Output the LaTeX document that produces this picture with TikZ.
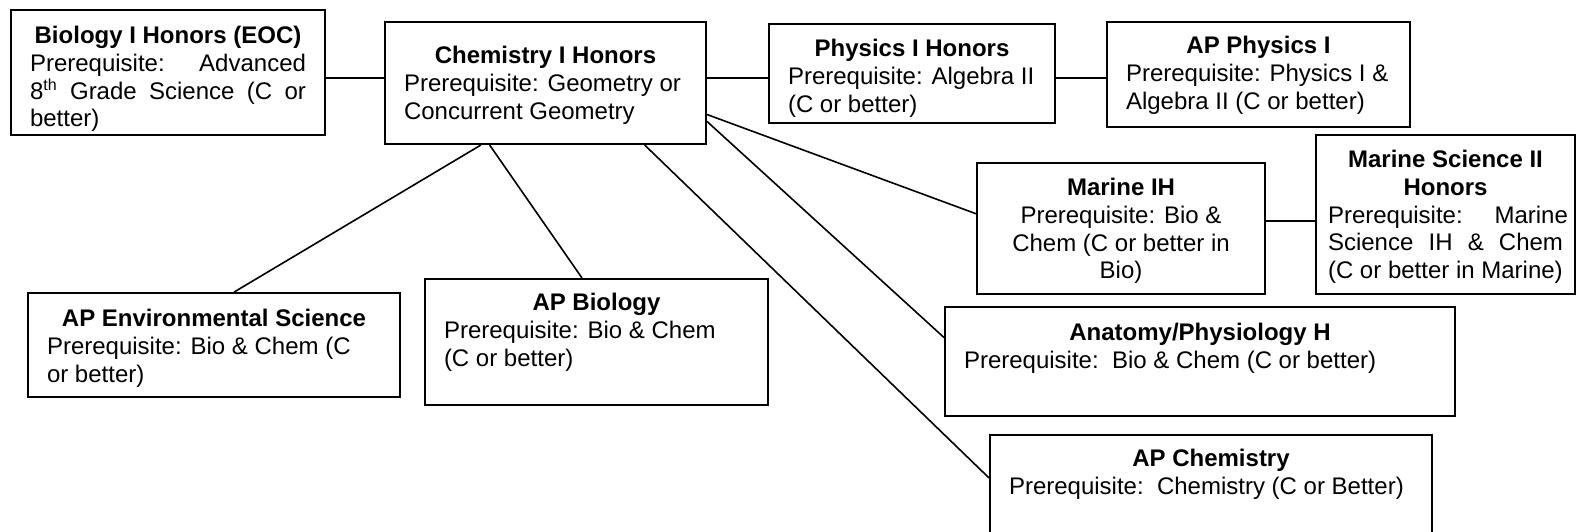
\documentclass[tikz,border=0pt]{standalone}
\usepackage{fontspec}
\setmainfont{Liberation Sans}
\usetikzlibrary{calc}
\newcommand{\cbox}[4]{\parbox[b][#2pt][t]{#1pt}{\vspace*{#3pt}#4}}
\newcommand{\ttl}[1]{{\centering\strut\textbf{#1}\par}}
\newcommand{\just}[1]{\makebox[\linewidth][s]{#1}\par}
\tikzset{course/.style={draw,line width=1pt,anchor=north west,inner xsep=9.5pt,inner ysep=0pt,
  font=\fontsize{12}{13.8}\selectfont},
  link/.style={line width=0.8pt}}
\begin{document}
\begin{tikzpicture}[x=0.5pt,y=-0.5pt]
\useasboundingbox (0,0) rectangle (1577,531);
\node[course] (bio) at (10,9) {\cbox{138}{62.5}{7.3}{\ttl{Biology I Honors (EOC)}%
 \just{Prerequisite: \quad Advanced}\just{8\textsuperscript{th} Grade Science (C or}better)}};
\node[course] (chem) at (384,21) {\cbox{141.5}{61}{11.3}{\ttl{Chemistry I Honors}%
 Prerequisite: Geometry or\\Concurrent Geometry}};
\node[course] (phys) at (768,23) {\cbox{124}{49.5}{6.8}{\ttl{Physics I Honors}%
 Prerequisite: Algebra II\\(C or better)}};
\node[course] (apphys) at (1106,21) {\cbox{132.5}{52.5}{6.3}{\ttl{AP Physics I}%
 Prerequisite: Physics I \&\\Algebra II (C or better)}};
\node[course] (mar) at (976,162) {\cbox{125}{65.5}{6.8}{\ttl{Marine IH}%
 {\centering Prerequisite: Bio \&\\Chem (C or better in\\Bio)\par}}};
\node[course,inner xsep=6pt] (marII) at (1315,134) {\cbox{117.5}{79.5}{6.8}{\ttl{Marine Science II\\Honors}%
 \just{Prerequisite: \quad Marine}\just{Science IH \& Chem}(C or better in Marine)}};
\node[course] (apenv) at (27,292) {\cbox{167}{52}{7.3}{\ttl{AP Environmental Science}%
 Prerequisite: Bio \& Chem (C\\or better)}};
\node[course] (apbio) at (424,278) {\cbox{152.5}{63}{6.3}{\ttl{AP Biology}%
 Prerequisite: Bio \& Chem\\(C or better)}};
\node[course] (anat) at (944,306) {\cbox{236}{54.5}{7.3}{\ttl{Anatomy/Physiology H}%
 Prerequisite:\ \ Bio \& Chem (C or better)}};
\node[course] (apchem) at (989,434) {\cbox{202}{60}{6.3}{\ttl{AP Chemistry}%
 Prerequisite:\ \ Chemistry (C or Better)}};
\coordinate (row1) at (0,78);
\coordinate (row2) at (0,221);
\draw[link] (bio.east |- row1) -- (chem.west |- row1);
\draw[link] (chem.east |- row1) -- (phys.west |- row1);
\draw[link] (phys.east |- row1) -- (apphys.west |- row1);
\draw[link] (mar.east |- row2) -- (marII.west |- row2);
\draw[link] ($(chem.south west)!.3!(chem.south east)$) -- ($(apenv.north west)!.554!(apenv.north east)$);
\draw[link] ($(chem.south west)!.327!(chem.south east)$) -- ($(apbio.north west)!.458!(apbio.north east)$);
\draw[link] ($(chem.south west)!.807!(chem.south east)$) -- ($(apchem.north west)!.36!(apchem.south west)$);
\draw[link] ($(chem.north east)!.754!(chem.south east)$) -- ($(mar.north west)!.389!(mar.south west)$);
\draw[link] ($(chem.north east)!.81!(chem.south east)$) -- ($(anat.north west)!.284!(anat.south west)$);
\end{tikzpicture}
\end{document}
